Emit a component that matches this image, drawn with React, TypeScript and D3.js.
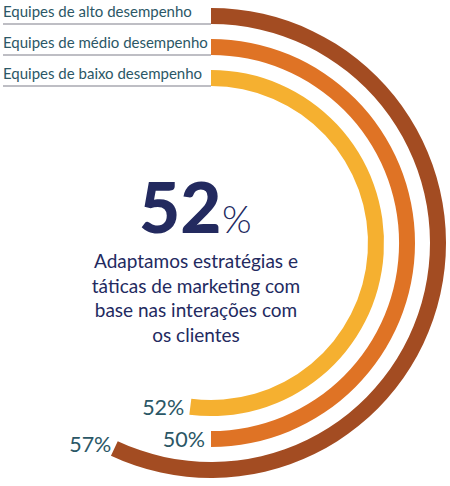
import React from "react";
import * as d3 from "d3";

// Share of teams by performance tier
const tiers = ["Equipes de alto desempenho", "Equipes de médio desempenho", "Equipes de baixo desempenho"];
const shares = [57, 50, 52];
const colors = ["#a34c22", "#df7325", "#f5b030"];
const headline = 52;
const captionLines = [
  "Adaptamos estratégias e",
  "táticas de marketing com",
  "base nas interações com",
  "os clientes",
];

const W = 450;
const H = 486;
const cx = 211;
const cy = 243;
const radii = [227, 196, 165];
const band = 16;
const teal = "#2b5766";
const navy = "#232a5f";
const font = "Lato, 'Open Sans', sans-serif";

export default function App() {
  const angle = d3.scaleLinear().domain([0, 100]).range([0, 2 * Math.PI]);
  const arc = d3.arc<{ r: number; v: number }>()
    .innerRadius((d) => d.r - band / 2)
    .outerRadius((d) => d.r + band / 2)
    .startAngle(0)
    .endAngle((d) => angle(d.v));

  // label anchor offsets per ring, relative to the ring end
  const labelPos = (i: number) => {
    const a = angle(shares[i]);
    const x = cx + Math.sin(a) * radii[i];
    const y = cy - Math.cos(a) * radii[i];
    if (i === 0) return { x: x - 3, y: y + 4 };
    return { x: x - 6, y: y + 8 };
  };

  return (
    <svg width={W} height={H} style={{ position: "absolute", left: 0, top: 0 }}>
      <rect width={W} height={H} fill="#ffffff" />
      {tiers.map((t, i) => {
        const lineY = cy - radii[i] + band / 2;
        return (
          <g key={t}>
            <line x1={3} x2={cx} y1={lineY} y2={lineY} stroke="#a8a8b0" strokeWidth={1.5} />
            <text x={3} y={lineY - 7} fontFamily={font} fontSize={15} fill={teal}>
              {t}
            </text>
          </g>
        );
      })}
      <g transform={`translate(${cx},${cy})`}>
        {shares.map((v, i) => (
          <path key={i} d={arc({ r: radii[i], v }) as string} fill={colors[i]} />
        ))}
      </g>
      {shares.map((v, i) => {
        const p = labelPos(i);
        return (
          <text key={i} x={p.x} y={p.y} textAnchor="end" fontFamily={font} fontSize={21.5} fill={teal}>
            {v}%
          </text>
        );
      })}
      <text x={139} y={233} fontFamily={font} fontWeight={900} fontSize={71} fill={navy}>
        {headline}
      </text>
      <text x={222} y={233} fontFamily={font} fontWeight={300} fontSize={38} fill={navy}>
        %
      </text>
      {captionLines.map((l, i) => (
        <text key={i} x={196} y={268 + i * 24.5} textAnchor="middle" fontFamily={font} fontSize={19} fill={navy}>
          {l}
        </text>
      ))}
    </svg>
  );
}
